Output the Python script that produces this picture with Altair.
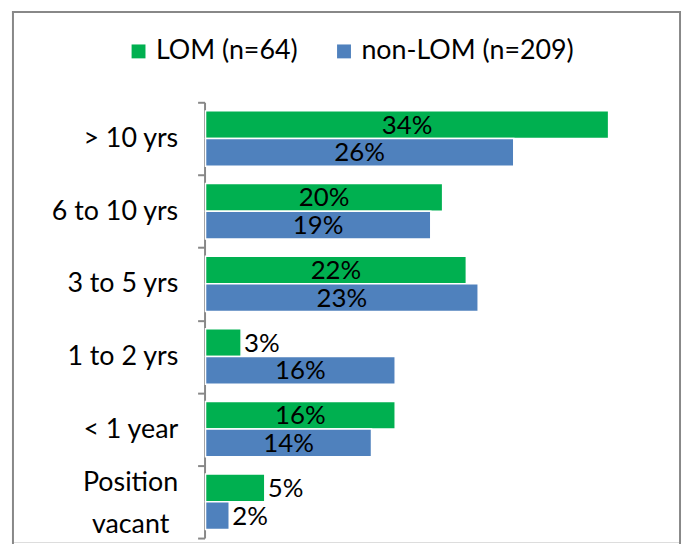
import altair as alt
import pandas as pd

categories = ["> 10 yrs", "6 to 10 yrs", "3 to 5 yrs", "1 to 2 yrs", "< 1 year", "Position vacant"]
series_names = ["LOM (n=64)", "non-LOM (n=209)"]
lom_values = [34, 20, 22, 3, 16, 5]
non_lom_values = [26, 19, 23, 16, 14, 2]
colors = ["#00B050", "#4F81BD"]

rows = []
for i, c in enumerate(categories):
    rows.append({"category": c, "series": series_names[0], "value": lom_values[i]})
    rows.append({"category": c, "series": series_names[1], "value": non_lom_values[i]})
df = pd.DataFrame(rows)

FONT = "Lato"
FS = 27
BFS = 26
W, H = 672, 534
GRAY = "#888888"

y_scale = alt.Scale(domain=categories, range=[91, 530], paddingInner=0, paddingOuter=0)
yoff_scale = alt.Scale(domain=series_names, paddingInner=0, paddingOuter=0.31)
x_scale = alt.Scale(domain=[0, 35], range=[194, 612])

is_pv = "datum.value == 'Position vacant'"
label_expr = "datum.value == 'Position vacant' ? ['Position', 'vacant'] : datum.value"

y_axis = alt.Axis(title=None, offset=-193, tickBand="extent", domainColor=GRAY,
                  domainWidth=2, tickColor=GRAY, tickWidth=2, tickSize=7,
                  labelFontSize=FS, labelFont=FONT, labelColor="black",
                  labelLineHeight=42, labelExpr=label_expr,
                  labelAlign={"condition": {"test": is_pv, "value": "center"}, "value": "right"},
                  labelPadding={"condition": {"test": is_pv, "value": 68}, "value": 20},
                  labelOffset={"condition": {"test": is_pv, "value": -19}, "value": 0},
                  labelLimit=300, grid=False)

y_enc = alt.Y("category:N", scale=y_scale, sort=categories, axis=y_axis)
yoff_enc = alt.YOffset("series:N", scale=yoff_scale, sort=series_names)

base = alt.Chart(df)

bars = base.mark_bar(stroke="white", strokeWidth=1.5).encode(
    y=y_enc,
    yOffset=yoff_enc,
    x=alt.X("value:Q", scale=x_scale, axis=None),
    color=alt.Color("series:N", sort=series_names,
                    scale=alt.Scale(domain=series_names, range=colors),
                    legend=alt.Legend(title=None, orient="none", direction="horizontal",
                                      legendX=113, legendY=26, labelFontSize=FS,
                                      labelFont=FONT, labelColor="black",
                                      symbolType="square", symbolSize=196,
                                      symbolStrokeWidth=0, symbolOpacity=1,
                                      labelOffset=4, columnPadding=33, labelLimit=400)),
)

inside = base.transform_filter("datum.value >= 6").transform_calculate(
    mid="datum.value / 2", label="format(datum.value, '.0f') + '%'"
).mark_text(font=FONT, fontSize=BFS, color="black", align="center", baseline="middle", dy=1).encode(
    y=y_enc,
    yOffset=yoff_enc,
    x=alt.X("mid:Q", scale=x_scale, axis=None),
    text="label:N",
)

outside = base.transform_filter("datum.value < 6").transform_calculate(
    label="format(datum.value, '.0f') + '%'"
).mark_text(font=FONT, fontSize=BFS, color="black", align="left", baseline="middle", dx=3, dy=1).encode(
    y=y_enc,
    yOffset=yoff_enc,
    x=alt.X("value:Q", scale=x_scale, axis=None),
    text="label:N",
)

frame_data = alt.Data(values=[{"k": 1}])
left_rule = alt.Chart(frame_data).mark_rule(color=GRAY, strokeWidth=2, strokeCap="square").encode(
    x=alt.value(0), y=alt.value(0), y2=alt.value(700))
right_rule = alt.Chart(frame_data).mark_rule(color=GRAY, strokeWidth=2, strokeCap="square").encode(
    x=alt.value(W), y=alt.value(0), y2=alt.value(700))
top_rule = alt.Chart(frame_data).mark_rule(color=GRAY, strokeWidth=2, strokeCap="square").encode(
    x=alt.value(0), x2=alt.value(W), y=alt.value(0))

chart = alt.layer(bars, inside, outside, left_rule, right_rule, top_rule).properties(
    width=W, height=H,
    autosize=alt.AutoSizeParams(type="none"),
    padding={"left": 5, "top": 2, "right": 3, "bottom": 0},
).configure_view(stroke=None).configure(background="white")

chart.save("out.html", embed_options={"renderer": "svg", "actions": False})
